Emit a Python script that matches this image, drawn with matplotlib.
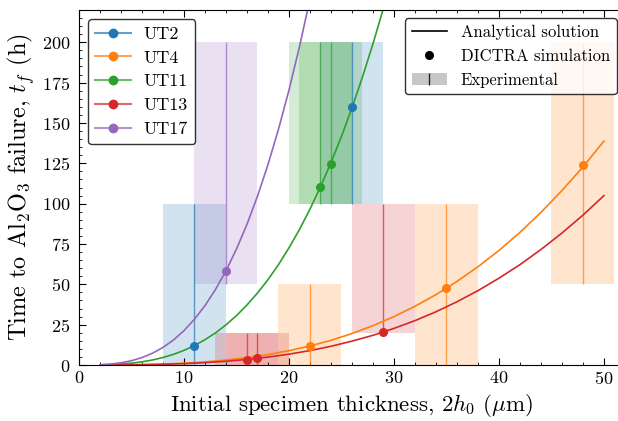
import numpy as np
import matplotlib
matplotlib.use('Agg')
import matplotlib.pyplot as plt
from matplotlib.lines import Line2D
from matplotlib.patches import Patch
from matplotlib.ticker import MultipleLocator

plt.rcParams['font.family'] = 'serif'
plt.rcParams['font.serif'] = ['cmr10', 'DejaVu Serif']
plt.rcParams['mathtext.fontset'] = 'cm'
plt.rcParams['axes.formatter.use_mathtext'] = True

# ── Data ─────────────────────────────────────────────────────────────────────
specimens = ['UT2', 'UT4', 'UT11', 'UT13', 'UT17']
colors = ['C0', 'C1', 'C2', 'C3', 'C4']

# analytical solution curves
x_slow = [2, 4, 6, 8, 10, 12, 14, 16, 18, 20, 22, 24, 26,
          28, 30, 32, 34, 36, 38, 40, 42, 44, 46, 48, 50]
t_ut4 = [0.01, 0.07, 0.24, 0.57, 1.11, 1.92, 3.05, 4.55, 6.47, 8.88, 11.8, 15.3, 19.5,
         24.4, 30.0, 36.4, 43.6, 51.8, 60.9, 71.0, 82.2, 94.6, 108.1, 122.8, 138.8]
t_ut13 = [0.01, 0.05, 0.18, 0.43, 0.84, 1.45, 2.30, 3.44, 4.90, 6.72, 8.94, 11.6, 14.8,
          18.4, 22.7, 27.5, 33.0, 39.2, 46.1, 53.8, 62.2, 71.6, 81.8, 92.9, 105.0]
x_fast = [2, 3, 4, 5, 6, 7, 8, 9, 10, 11, 12, 13, 14, 15, 16,
          17, 18, 19, 20, 21, 22, 23, 24, 25, 26, 27, 28, 29, 30]
t_ut11 = [0.07, 0.24, 0.58, 1.13, 1.96, 3.11, 4.64, 6.61, 9.07, 12.07, 15.7, 19.9,
          24.9, 30.6, 37.2, 44.6, 52.9, 62.2, 72.6, 84.0, 96.6, 110.4, 125.4, 141.7,
          159.4, 178.5, 199.1, 221.2, 244.9]
t_ut17 = [0.17, 0.58, 1.36, 2.66, 4.60, 7.31, 10.9, 15.5, 21.3, 28.4, 36.8, 46.8,
          58.4, 71.9, 87.2, 104.6, 124.2, 146.1, 170.4, 197.3, 226.8]
curve_x = {'UT4': x_slow, 'UT13': x_slow, 'UT11': x_fast, 'UT17': x_fast}
curve_t = {'UT4': t_ut4, 'UT13': t_ut13, 'UT11': t_ut11, 'UT17': t_ut17}

# DICTRA simulation points
dictra_x = {'UT2': [11, 26], 'UT4': [22, 35, 48], 'UT11': [23, 24],
            'UT13': [16, 17, 29], 'UT17': [14]}
dictra_t = {'UT2': [12.0, 159.6], 'UT4': [11.8, 47.7, 123.8], 'UT11': [110.5, 124.4],
            'UT13': [3.4, 4.1, 20.5], 'UT17': [58.5]}

# experimental: measured thickness, thickness range, failure time range
exp_x = {'UT2': [11, 26], 'UT4': [22, 35, 48], 'UT11': [23, 24],
         'UT13': [16, 17, 29], 'UT17': [14]}
exp_x_lo = {'UT2': [8, 23], 'UT4': [19, 32, 45], 'UT11': [20, 21],
            'UT13': [13, 14, 26], 'UT17': [11]}
exp_x_hi = {'UT2': [14, 29], 'UT4': [25, 38, 51], 'UT11': [26, 27],
            'UT13': [19, 20, 32], 'UT17': [17]}
exp_t_lo = {'UT2': [0, 100], 'UT4': [0, 0, 50], 'UT11': [100, 100],
            'UT13': [0, 0, 20], 'UT17': [50]}
exp_t_hi = {'UT2': [100, 200], 'UT4': [50, 100, 200], 'UT11': [200, 200],
            'UT13': [20, 20, 100], 'UT17': [200]}

# ── Figure ───────────────────────────────────────────────────────────────────
fig = plt.figure(figsize=(6.18, 4.21), dpi=100)
ax = fig.add_axes([0.1278, 0.133, 0.8835, 0.8432])

for name, c in zip(specimens, colors):
    for xc, lo, hi, tl, th in zip(exp_x[name], exp_x_lo[name], exp_x_hi[name],
                                  exp_t_lo[name], exp_t_hi[name]):
        ax.fill_between([lo, hi], tl, th, color=c, alpha=0.2, lw=0)
        ax.vlines(xc, tl, th, color=c, alpha=0.7, lw=1.0)

for name, c in zip(specimens, colors):
    if name in curve_t:
        ax.plot(curve_x[name][:len(curve_t[name])], curve_t[name], color=c, lw=1.2)

for name, c in zip(specimens, colors):
    ax.plot(dictra_x[name], dictra_t[name], 'o', color=c, ms=5.5, zorder=5)

ax.set_xlim(0, 52)
ax.set_ylim(0, 220)
ax.xaxis.set_major_locator(MultipleLocator(10))
ax.xaxis.set_minor_locator(MultipleLocator(2))
ax.yaxis.set_major_locator(MultipleLocator(25))
ax.yaxis.set_minor_locator(MultipleLocator(5))
ax.tick_params(which='both', direction='in', top=True, right=True, labelsize=13)
ax.tick_params(which='major', length=5)
ax.tick_params(which='minor', length=2.5)
ax.tick_params(axis='y', which='major', pad=6)

ax.set_xlabel(r'Initial specimen thickness, $2h_0$ ($\mu$m)', fontsize=16.5)
ax.set_ylabel(r'Time to Al$_2$O$_3$ failure, $t_f$ (h)', fontsize=17.5, labelpad=4)

# legends
spec_handles = [(Line2D([], [], color=c, alpha=0.7, lw=1.5),
                 Line2D([], [], color=c, marker='o', ms=6, ls='none'))
                for c in colors]
leg1 = ax.legend(spec_handles, specimens, loc='upper left', fontsize=13,
                 edgecolor='k', fancybox=True, labelspacing=0.45, handletextpad=0.7)
ax.add_artist(leg1)

kind_handles = [Line2D([], [], color='k', lw=1.2),
                Line2D([], [], color='k', marker='o', ms=5.5, ls='none'),
                (Patch(facecolor='0.78', edgecolor='none'),
                 Line2D([], [], color='0.15', marker='|', ms=8.5, mew=1, ls='none'))]
ax.legend(kind_handles, ['Analytical solution', 'DICTRA simulation', 'Experimental'],
          loc='upper right', fontsize=12, edgecolor='k', fancybox=True,
          handlelength=2.1, handletextpad=0.85)

plt.savefig('out.png', dpi=100)
